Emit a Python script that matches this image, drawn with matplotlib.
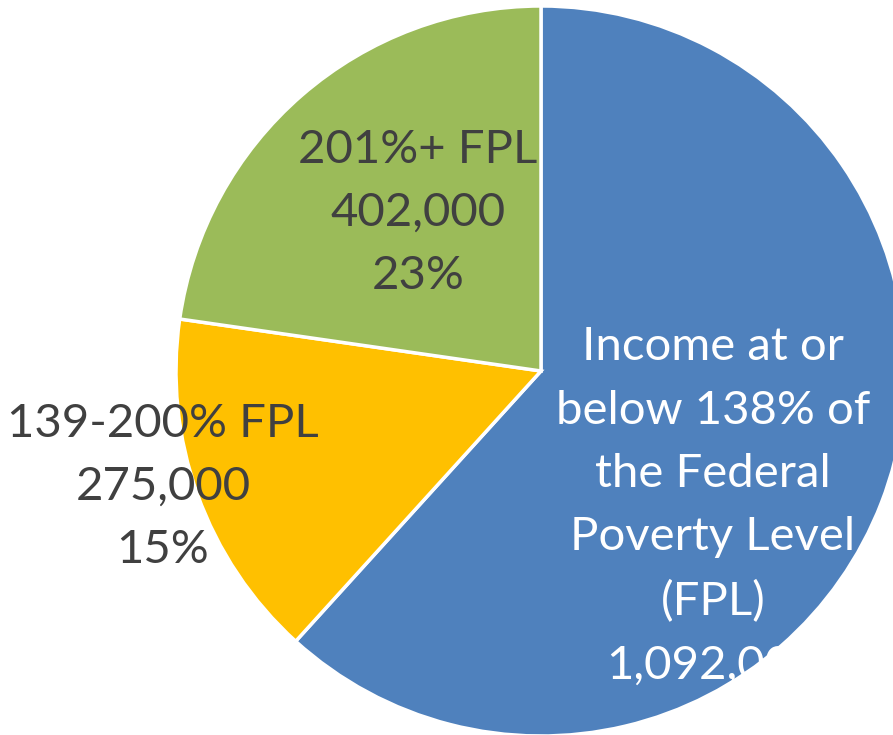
import matplotlib.pyplot as plt

groups = ['Income at or\nbelow 138% of\nthe Federal\nPoverty Level\n(FPL)', '139-200% FPL', '201%+ FPL']
people = [1092000, 275000, 402000]
shares = ['62%', '15%', '23%']
colors = ['#4F81BD', '#FFC000', '#9BBB59']
text_colors = ['white', '#404040', '#404040']
# label centres in axes units (pie radius = 1)
label_pos = [(0.471, -0.458), (-1.036, -0.318), (-0.337, 0.433)]

plt.rcParams['font.family'] = ['Lato', 'DejaVu Sans']

fig = plt.figure(figsize=(8.93, 7.35), dpi=100)
ax = fig.add_axes([0, 0, 1, 1])

r_px = 365
cx, cy = 541, 371
ax.pie(people, colors=colors, startangle=90, counterclock=False,
       wedgeprops={'edgecolor': 'white', 'linewidth': 2.5})
ax.set_xlim(-cx / r_px, (893 - cx) / r_px)
ax.set_ylim(-(735 - cy) / r_px, cy / r_px)
ax.set_aspect('auto')
ax.axis('off')

for g, n, s, c, (x, y) in zip(groups, people, shares, text_colors, label_pos):
    txt = g + '\n' + f'{n:,}' + '\n' + s
    ax.text(x, y, txt, ha='center', va='center', color=c, fontsize=34,
            linespacing=1.63)

fig.savefig('out.png', dpi=100)
